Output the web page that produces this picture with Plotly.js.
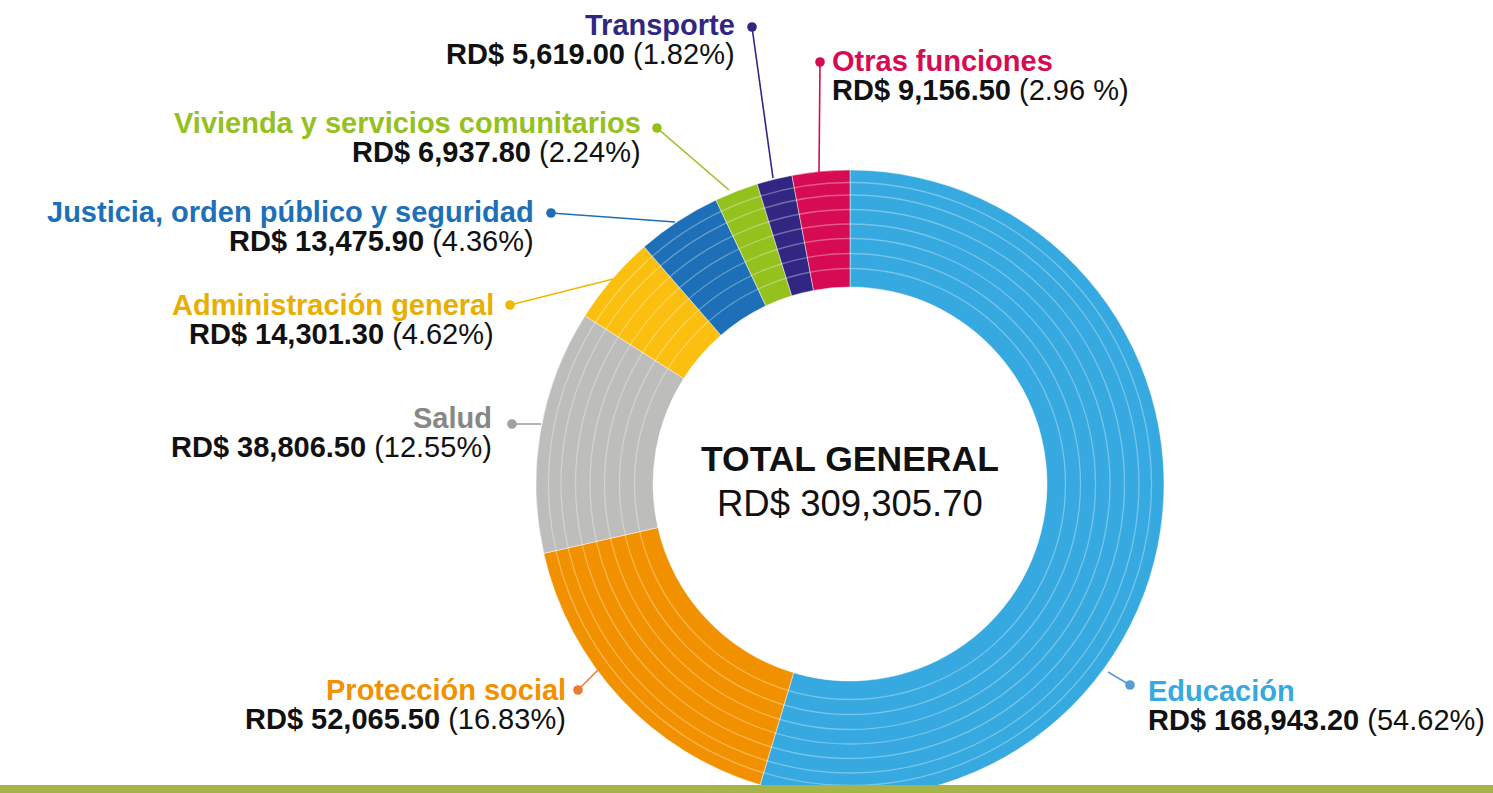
<!DOCTYPE html>
<html>
<head>
<meta charset="utf-8">
<script src="https://cdn.plot.ly/plotly-3.0.1.min.js"></script>
<style>
html,body{margin:0;padding:0;overflow:hidden;background:#fff;}
#chart{width:1493px;height:805px;}
</style>
</head>
<body>
<div id="chart"></div>
<script>
// ---- data ----
const categories = ['Educación','Protección social','Salud','Administración general',
  'Justicia, orden público y seguridad','Vivienda y servicios comunitarios','Transporte','Otras funciones'];
const values = [168943.20, 52065.50, 38806.50, 14301.30, 13475.90, 6937.80, 5619.00, 9156.50];
const percentLabels = ['54.62%','16.83%','12.55%','4.62%','4.36%','2.24%','1.82%','2.96 %'];
const totalLabel = 'TOTAL GENERAL';

// ---- styles ----
const sliceColors = ['#36a9e0','#f29100','#bdbdbc','#fbbf10','#1d70b7','#95c11f','#312783','#d60b52'];
const nameColors  = ['#36a9e0','#f29100','#878787','#e8ae00','#1d70b7','#95c11f','#312783','#d60b52'];
const dotColors   = ['#5b9bd5','#ec7a31','#a0a0a0','#f2b800','#1d70b7','#95c11f','#312783','#d60b52'];

const W = 1493, H = 805;
const px = x => x / W;
const py = y => 1 - y / H;
const CX = 850, CY = 484, R = 314, RIN = 197;

// label layout (pixel positions): dot, slice end point, text anchor x, name baseline, align
const labelLayout = [
  {dot:[1130,685], edge:[1108,672], tx:1146, base:701, align:'left'},
  {dot:[578,690],  edge:[598,670],  tx:568,  base:700, align:'right'},
  {dot:[512,424],  edge:[541,424],  tx:494,  base:428, align:'right'},
  {dot:[510,305],  edge:[613,279],  tx:496,  base:315, align:'right'},
  {dot:[551,213],  edge:[675,222],  tx:536,  base:222, align:'right'},
  {dot:[657,128],  edge:[729,190],  tx:643,  base:133, align:'right'},
  {dot:[752,27],   edge:[773,178],  tx:737,  base:35,  align:'right'},
  {dot:[820,62],   edge:[819,172],  tx:830,  base:71,  align:'left'}
];

const fmt = v => v.toLocaleString('en-US',{minimumFractionDigits:2, maximumFractionDigits:2});
const total = values.reduce((a,b)=>a+b,0);

const FONT = 'Liberation Sans, Arial, sans-serif';
const FS = 29;

const trace = {
  type:'pie',
  labels: categories,
  values: values,
  sort:false,
  direction:'clockwise',
  rotation:0,
  hole: RIN / R,
  textinfo:'none',
  hoverinfo:'label+value+percent',
  marker:{colors:sliceColors, line:{color:'rgba(255,255,255,0.45)', width:1}},
  domain:{x:[px(CX-R), px(CX+R)], y:[py(CY+R), py(CY-R)]}
};

const shapes = [];
// concentric ring lines
const ringRadii = [215.5, 230.5, 245.5, 260, 274.5, 289, 301.5];
ringRadii.forEach(r => {
  shapes.push({type:'circle', xref:'paper', yref:'paper', layer:'above',
    x0:px(CX-r), x1:px(CX+r), y0:py(CY+r), y1:py(CY-r),
    line:{color:'rgba(255,255,255,0.32)', width:1.3}, fillcolor:'rgba(0,0,0,0)'});
});
// leader lines and dots
labelLayout.forEach((L,i) => {
  shapes.push({type:'line', xref:'paper', yref:'paper', layer:'above',
    x0:px(L.dot[0]), y0:py(L.dot[1]), x1:px(L.edge[0]), y1:py(L.edge[1]),
    line:{color:dotColors[i], width:1.6}});
  const d = 4.8;
  shapes.push({type:'circle', xref:'paper', yref:'paper', layer:'above',
    x0:px(L.dot[0]-d), x1:px(L.dot[0]+d), y0:py(L.dot[1]+d), y1:py(L.dot[1]-d),
    line:{width:0}, fillcolor:dotColors[i]});
});
// bottom green band
shapes.push({type:'rect', xref:'paper', yref:'paper', layer:'above',
  x0:0, x1:1, y0:0, y1:py(785), line:{width:0}, fillcolor:'#a4b446'});

const annotations = [];
labelLayout.forEach((L,i) => {
  annotations.push({xref:'paper', yref:'paper', x:px(L.tx), y:py(L.base - 10),
    xanchor:L.align, yanchor:'middle', showarrow:false, align:L.align,
    text:'<b>'+categories[i]+'</b>', font:{family:FONT, size:FS, color:nameColors[i]}});
  annotations.push({xref:'paper', yref:'paper', x:px(L.tx), y:py(L.base + 29 - 10),
    xanchor:L.align, yanchor:'middle', showarrow:false, align:L.align,
    text:'<b>RD$ '+fmt(values[i])+'</b> ('+percentLabels[i]+')', font:{family:FONT, size:FS, color:'#111111'}});
});
annotations.push({xref:'paper', yref:'paper', x:px(CX), y:py(473-14), xanchor:'center', yanchor:'middle',
  showarrow:false, text:'<b>'+totalLabel+'</b>', font:{family:FONT, size:35.5, color:'#111111'}});
annotations.push({xref:'paper', yref:'paper', x:px(CX), y:py(516-13), xanchor:'center', yanchor:'middle',
  showarrow:false, text:'RD$ '+fmt(total), font:{family:FONT, size:36.5, color:'#111111'}});

const layout = {
  width:W, height:H,
  margin:{l:0,r:0,t:0,b:0},
  showlegend:false,
  paper_bgcolor:'#ffffff',
  shapes:shapes,
  annotations:annotations
};

Plotly.newPlot('chart',[trace],layout,{displayModeBar:false, staticPlot:true});
</script>
</body>
</html>
